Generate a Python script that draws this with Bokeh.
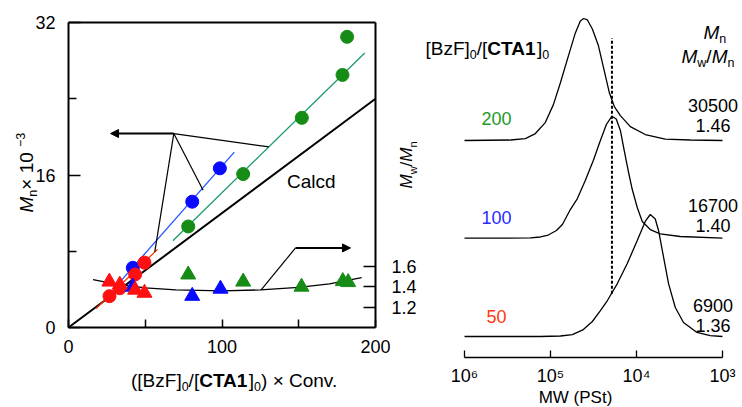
import math
from bokeh.plotting import figure
from bokeh.layouts import row
from bokeh.models import (Range1d, LinearAxis, LogAxis, FixedTicker, Label, Arrow,
                          NormalHead, CustomJSTickFormatter)
from bokeh.embed import file_html
from bokeh.resources import INLINE

FONT = "Liberation Sans"

# ---------------- left panel data ----------------
# Mn x 10^-3 (circles) vs ([BzF]0/[CTA1]0) x Conv.
green_conv = [78, 113.8, 152, 178.5, 181.5]
green_mn = [10.6, 16.1, 22.0, 26.5, 30.5]
blue_conv = [41.9, 80.6, 98.6]
blue_mn = [6.26, 13.2, 16.7]
red_conv = [26.7, 33.4, 43.4, 49.5]
red_mn = [3.29, 4.12, 5.56, 6.8]
# Mw/Mn (triangles)
green_tri_conv = [78, 113.8, 151.8, 178.7, 182.2]
green_pdi = [1.52, 1.45, 1.40, 1.455, 1.445]
blue_tri_conv = [41.9, 80.6, 99]
blue_pdi = [1.40, 1.31, 1.38]
red_tri_conv = [26.6, 33.4, 43.4, 49.5]
red_pdi = [1.45, 1.42, 1.37, 1.34]
# calculated line and linear fits
calcd_conv = [0, 200]
calcd_mn = [0, 24.0]
green_fit_conv = [68, 193]
green_fit_mn = [9.1, 28.8]
blue_fit_conv = [32, 108]
blue_fit_mn = [4.5, 18.4]
red_fit_conv = [18, 58]
red_fit_mn = [2.0, 8.2]
# guide curve through Mw/Mn
pdi_curve_conv = [16, 30, 50, 70, 100, 125, 150, 170, 191]
pdi_curve = [1.47, 1.43, 1.39, 1.37, 1.36, 1.37, 1.395, 1.43, 1.49]
# pointer lines (left panel)
ptr_apex = (68.6, 20.35)
ptr_tip_conv = 27.4
ptr_target_conv = [130.5, 87.7, 56.2]
ptr_target_mn = [18.95, 14.4, 7.93]
ptr2_conv = [125.5, 147.9]
ptr2_mn = [3.95, 8.35]
ptr2_tip_conv = 183.7

x_ticks = [0, 100, 200]
x_minor = [50, 150]
y_ticks = [0, 16, 32]
y_minor = [8, 24]
pdi_ticks = [1.2, 1.4, 1.6]

# ---------------- right panel data (GPC) ----------------
mw_200 = [1000000, 292000, 196000, 150000, 115000, 92500, 76700, 61900, 51400,
          45000, 41100, 37200, 32600, 27700, 23700, 20700, 18100, 15400, 11800,
          7910, 4630, 2370, 1000]
ri_200 = [0, 0.004, 0.016, 0.057, 0.147, 0.294, 0.473, 0.694, 0.882, 0.980, 1.0,
          0.988, 0.914, 0.776, 0.571, 0.392, 0.278, 0.204, 0.114, 0.049, 0.012,
          0.004, 0]
mw_100 = [1000000, 171000, 131000, 106000, 85300, 72700, 58800, 48700, 39400,
          31800, 26300, 22400, 19300, 17200, 15400, 13900, 12500, 11200, 9800,
          8570, 6920, 5300, 3100, 1000]
ri_100 = [0, 0.002, 0.010, 0.026, 0.063, 0.112, 0.235, 0.325, 0.473, 0.637,
          0.801, 0.932, 1.0, 0.977, 0.883, 0.719, 0.555, 0.399, 0.252, 0.137,
          0.071, 0.036, 0.014, 0]
mw_50 = [1000000, 131000, 76700, 55700, 41500, 32600, 26300, 21800, 16700, 12800,
         9800, 7910, 6920, 6050, 5540, 4840, 4240, 3540, 2840, 1980, 1390, 1000]
ri_50 = [0, 0, 0.004, 0.016, 0.057, 0.123, 0.213, 0.295, 0.434, 0.598, 0.787,
         0.943, 1.0, 0.963, 0.869, 0.648, 0.434, 0.238, 0.115, 0.033, 0.008, 0]
ratios = ["200", "100", "50"]
mn_values = ["30500", "16700", "6900"]
pdi_values = ["1.46", "1.40", "1.36"]
dash_mw = 19300
mw_ticks = [1e3, 1e4, 1e5, 1e6]

GREEN = "#168c16"
BLUE = "#0a0aff"
RED = "#ff1010"

# ---------------- text width helper (Arial metrics) ----------------
REG = {'(': 333, ')': 333, '[': 278, ']': 278, 'B': 667, 'z': 500, 'F': 611,
       '0': 556, '1': 556, '3': 556, '/': 278, 'C': 722, 'T': 611, 'A': 667,
       ' ': 278, '×': 584, 'o': 556, 'n': 556, 'v': 500, '.': 278, 'M': 833,
       'w': 722, '−': 584, 'a': 556, 'l': 222, 'c': 500, 'd': 556}
BOLD = dict(REG, A=722)
DROP = 0.27  # rendered baseline sits this fraction of the font size lower


def tw(s, size, style):
    t = BOLD if style == "bold" else REG
    return sum(t.get(c, 556) for c in s) * size / 1000.0


def label(fig, cx, cy, x, base, text, size, color="black", align="left",
          style="normal"):
    fig.add_layout(Label(x=cx(x), y=cy(base - DROP * size), text=text,
                         text_font=FONT, text_font_size=f"{size}px",
                         text_font_style=style, text_color=color,
                         text_align=align, text_baseline="alphabetic"))


def rich(fig, cx, cy, x0, base, pieces, color="black", vertical=False):
    pos = x0
    for s, size, style, shift in pieces:
        if vertical:
            x, y, ang = base + shift - DROP * size, pos, math.pi / 2
        else:
            x, y, ang = pos, base + shift - DROP * size, 0
        fig.add_layout(Label(x=cx(x), y=cy(y), text=s, angle=ang,
                             text_font=FONT, text_font_size=f"{size}px",
                             text_font_style=style, text_color=color,
                             text_align="left", text_baseline="alphabetic"))
        pos = pos - tw(s, size, style) if vertical else pos + tw(s, size, style)


# ---------------- left figure (frame spans the whole canvas) ----------------
def lx(px):
    return (px - 68) / 307 * 200


def ly(py):
    return (327 - py) / 305 * 32


def lmw(py):
    return 1 + (327 - py) / 305 * 3


p1 = figure(width=420, height=407, x_range=Range1d(lx(0), lx(420)),
            y_range=Range1d(ly(407), ly(0)), output_backend="svg",
            toolbar_location=None, title=None, x_axis_location=None,
            y_axis_location=None, min_border=0)
p1.extra_y_ranges = {"mw": Range1d(lmw(407), lmw(0))}
p1.grid.visible = False
p1.outline_line_color = None
p1.background_fill_color = "white"
p1.border_fill_color = "white"


def style_axis(ax, size="18px"):
    ax.axis_line_width = 2
    ax.major_tick_out = 0
    ax.minor_tick_out = 0
    ax.major_tick_line_width = 1.5
    ax.minor_tick_line_width = 1.5
    ax.major_label_text_font = FONT
    ax.major_label_text_font_size = size
    ax.major_label_text_color = "black"


bax = LinearAxis(fixed_location=0, bounds=(0, 200),
                 ticker=FixedTicker(ticks=x_ticks, minor_ticks=x_minor))
style_axis(bax)
bax.major_tick_in = 8
bax.minor_tick_in = 8
bax.major_label_standoff = 12
p1.add_layout(bax, "below")

lax = LinearAxis(fixed_location=0, bounds=(0, 32),
                 ticker=FixedTicker(ticks=y_ticks, minor_ticks=y_minor))
style_axis(lax)
lax.major_tick_in = 12
lax.minor_tick_in = 8
lax.major_label_standoff = 13
p1.add_layout(lax, "left")

tax = LinearAxis(fixed_location=32, bounds=(0, 200), ticker=FixedTicker(ticks=[]))
style_axis(tax)
p1.add_layout(tax, "above")

rax = LinearAxis(y_range_name="mw", fixed_location=200, bounds=(1, 4),
                 ticker=FixedTicker(ticks=pdi_ticks))
style_axis(rax)
rax.major_tick_in = 12
rax.minor_tick_line_color = None
rax.major_label_standoff = 16
p1.add_layout(rax, "right")

# lines
p1.line(calcd_conv, calcd_mn, line_color="black", line_width=2)
p1.line(green_fit_conv, green_fit_mn, line_color="#1a9a6a", line_width=1.3)
p1.line(blue_fit_conv, blue_fit_mn, line_color="#2255ff", line_width=1.3)
p1.line(red_fit_conv, red_fit_mn, line_color="#ff3300", line_width=1.3)
p1.line(pdi_curve_conv, pdi_curve, y_range_name="mw", line_color="black",
        line_width=1.3)

# pointer lines
p1.segment(x0=[ptr_apex[0]] * 3, y0=[ptr_apex[1]] * 3, x1=ptr_target_conv,
           y1=ptr_target_mn, line_color="black", line_width=1.2)
p1.add_layout(Arrow(end=NormalHead(size=8, fill_color="black", line_color="black"),
                    x_start=ptr_apex[0], y_start=ptr_apex[1], x_end=ptr_tip_conv,
                    y_end=ptr_apex[1], line_width=2, line_color="black"))
p1.line(ptr2_conv, ptr2_mn, line_color="black", line_width=1.2)
p1.add_layout(Arrow(end=NormalHead(size=8, fill_color="black", line_color="black"),
                    x_start=ptr2_conv[1], y_start=ptr2_mn[1], x_end=ptr2_tip_conv,
                    y_end=ptr2_mn[1], line_width=2, line_color="black"))

# markers
p1.scatter(green_conv, green_mn, size=13, color=GREEN)
p1.scatter(blue_conv, blue_mn, size=13, color=BLUE)
p1.scatter(red_conv, red_mn, size=13, color=RED)
p1.scatter(green_tri_conv, green_pdi, y_range_name="mw", marker="triangle",
           size=15, color=GREEN)
p1.scatter(blue_tri_conv, blue_pdi, y_range_name="mw", marker="triangle",
           size=15, color=BLUE)
p1.scatter(red_tri_conv, red_pdi, y_range_name="mw", marker="triangle",
           size=15, color=RED)

label(p1, lx, ly, 286.5, 186, "Calcd", 19)

# axis titles
rich(p1, lx, ly, 130.5, 385, [("([BzF]", 19, "normal", 0), ("0", 12.5, "normal", 4.5),
                              ("/[", 19, "normal", 0), ("CTA1", 19, "bold", 0),
                              ("]", 19, "normal", 0), ("0", 12.5, "normal", 4.5),
                              (") × Conv.", 19, "normal", 0)])
rich(p1, lx, ly, 212, 31, [("M", 19, "italic", 0), ("n", 12.5, "normal", 4.5),
                           (" × 10", 19, "normal", 0), ("−3", 12.5, "normal", -8)],
     vertical=True)
rich(p1, lx, ly, 188, 411, [("M", 17, "italic", 0), ("w", 11, "normal", 4),
                            ("/", 17, "normal", 0), ("M", 17, "italic", 0),
                            ("n", 11, "normal", 4)], vertical=True)

# ---------------- right figure (frame spans the whole canvas) ----------------
def rx(px):
    return 10 ** (6 - (px - 464) / 258 * 3)


def ry(py):
    return (357 - py) / 122


offsets = {"200": ry(140), "100": ry(237.7), "50": ry(336)}

p2 = figure(width=322, height=407, x_axis_type="log",
            x_range=Range1d(rx(420), rx(742)), y_range=Range1d(ry(407), ry(0)),
            output_backend="svg", toolbar_location=None, title=None,
            x_axis_location=None, y_axis_location=None, min_border=0)
p2.grid.visible = False
p2.outline_line_color = None
p2.background_fill_color = "white"
p2.border_fill_color = "white"

xa = LogAxis(fixed_location=0, bounds=(1e3, 1e6), ticker=FixedTicker(ticks=mw_ticks))
xa.formatter = CustomJSTickFormatter(code="""
const sup = {"0":"\u2070","1":"\u00b9","2":"\u00b2","3":"\u00b3","4":"\u2074",
             "5":"\u2075","6":"\u2076","7":"\u2077","8":"\u2078","9":"\u2079"};
const e = Math.round(Math.log10(tick));
return "10" + String(e).split("").map(c => sup[c]).join("");
""")
xa.axis_line_width = 1.3
xa.major_tick_in = 7
xa.major_tick_out = 0
xa.major_tick_line_width = 1.3
xa.minor_tick_line_color = None
xa.major_label_standoff = 8
xa.major_label_text_font = FONT
xa.major_label_text_font_size = "18px"
xa.major_label_text_color = "black"
p2.add_layout(xa, "below")

for mw, ri, key in ((mw_200, ri_200, "200"), (mw_100, ri_100, "100"),
                    (mw_50, ri_50, "50")):
    p2.line(mw, [v + offsets[key] for v in ri], line_color="black", line_width=1.3)

p2.line([dash_mw, dash_mw], [ry(293.3), ry(37.7)], line_color="black",
        line_width=2, line_dash="3 2")

for key, col, base in zip(ratios, ("#22992a", "#2a2aff", "#ff3a10"),
                          (122.7, 222, 321)):
    label(p2, rx, ry, 496, base, key, 18, color=col, align="center")

for mn, pdi, b1, b2 in zip(mn_values, pdi_values, (110, 210, 310), (130, 230, 330)):
    label(p2, rx, ry, 712.5, b1, mn, 18, align="center")
    label(p2, rx, ry, 712.5, b2, pdi, 18, align="center")

rich(p2, rx, ry, 425, 53, [("[BzF]", 19, "normal", 0), ("0", 12.5, "normal", 4.5),
                           ("/[", 19, "normal", 0), ("CTA1", 19, "bold", 0),
                           ("]", 19, "normal", 0), ("0", 12.5, "normal", 4.5)])
rich(p2, rx, ry, 703, 37, [("M", 19, "italic", 0), ("n", 12.5, "normal", 4.5)])
rich(p2, rx, ry, 681, 61, [("M", 19, "italic", 0), ("w", 12.5, "normal", 4.5),
                           ("/", 19, "normal", 0), ("M", 19, "italic", 0),
                           ("n", 12.5, "normal", 4.5)])
label(p2, rx, ry, 575, 402, "MW (PSt)", 17, align="center")

layout = row(p1, p2)
open("out.html", "w").write(file_html(layout, INLINE))
